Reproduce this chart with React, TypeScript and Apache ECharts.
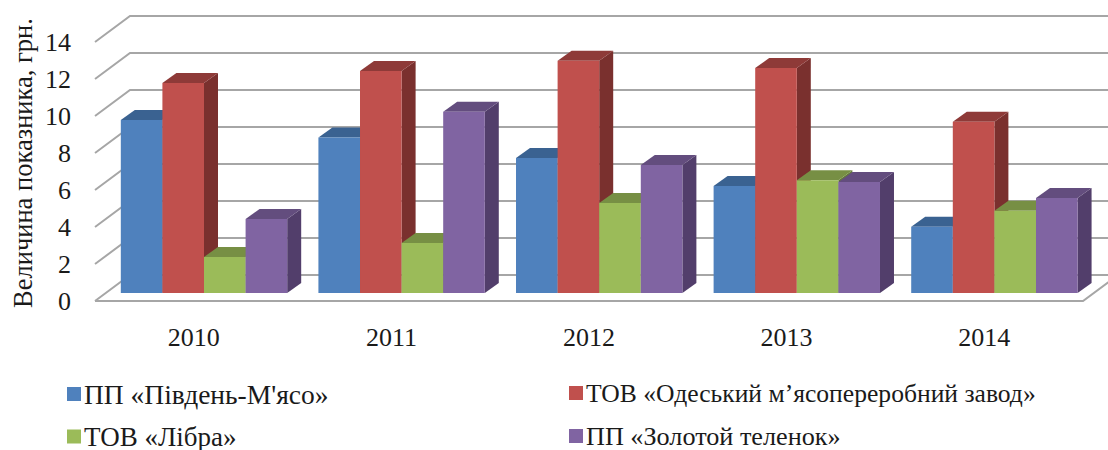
import React, { useEffect, useRef } from "react";
import * as echarts from "echarts";

const categories = ["2010", "2011", "2012", "2013", "2014"];
const valueTicks = [0, 2, 4, 6, 8, 10, 12, 14];
const seriesNames = [
  "ПП «Південь-М'ясо»",
  "ТОВ «Одеський м’ясопереробний завод»",
  "ТОВ «Лібра»",
  "ПП «Золотой теленок»",
];
const pivdenMyaso = [9.35, 8.4, 7.3, 5.78, 3.58];
const odeskyi = [11.35, 12.0, 12.55, 12.16, 9.26];
const libra = [1.95, 2.7, 4.86, 6.1, 4.45];
const zolotoi = [4.0, 9.8, 6.92, 6.0, 5.13];
const seriesValues = [pivdenMyaso, odeskyi, libra, zolotoi];
const frontColors = ["#4F81BD", "#C0504D", "#9BBB59", "#8064A2"];
const topColors = ["#3A6291", "#8E3A38", "#778F44", "#634D7E"];
const sideColors = ["#31527A", "#7A302E", "#647A3A", "#523E6B"];

const FONT = '"Liberation Serif", "Times New Roman", serif';
const WALL_DX = 35, WALL_DY = -26;
const BAR_OFFSET_X = 10.2, BAR_OFFSET_Y = -8;
const BAR_DX = 14, BAR_DY = -10;
const BAR_BAND = 0.2105;
const GRID_COLOR = "#A6A6A6";

const renderGrid = (params: any, api: any) => {
  const sys = params.coordSys;
  const v = api.value(0);
  const y = api.coord([0, v])[1];
  const left = sys.x, right = sys.x + sys.width;
  const style = { stroke: GRID_COLOR, lineWidth: 2, fill: "none" };
  const children: any[] = [
    { type: "polyline", shape: { points: [[left, y], [left + WALL_DX, y + WALL_DY], [right + WALL_DX, y + WALL_DY]] }, style },
  ];
  if (v === 0) {
    children.push({ type: "polyline", shape: { points: [[left, y], [right, y], [right + WALL_DX, y + WALL_DY]] }, style });
  }
  return { type: "group", children };
};

const makeBarRenderer = (si: number) => (_params: any, api: any) => {
  const band = api.size([1, 0])[0];
  const w = band * BAR_BAND;
  const [cx, yTop0] = api.coord([api.value(0), api.value(1)]);
  const yBase0 = api.coord([api.value(0), 0])[1];
  const x0 = cx + BAR_OFFSET_X + (si - 2) * w;
  const x1 = x0 + w;
  const yT = yTop0 + BAR_OFFSET_Y;
  const yB = yBase0 + BAR_OFFSET_Y;
  return {
    type: "group",
    children: [
      { type: "polygon", shape: { points: [[x1, yT], [x1 + BAR_DX, yT + BAR_DY], [x1 + BAR_DX, yB + BAR_DY], [x1, yB]] }, style: { fill: sideColors[si] } },
      { type: "polygon", shape: { points: [[x0, yT], [x0 + BAR_DX, yT + BAR_DY], [x1 + BAR_DX, yT + BAR_DY], [x1, yT]] }, style: { fill: topColors[si] } },
      { type: "rect", shape: { x: x0, y: yT, width: w, height: yB - yT }, style: { fill: frontColors[si] } },
    ],
  };
};

const legendPositions = [
  { left: 67, top: 380 },
  { left: 569, top: 380 },
  { left: 67, top: 423 },
  { left: 569, top: 423 },
];
const legendFontSizes = [27.5, 25.6, 27, 26.2];

export default function App() {
  const ref = useRef<HTMLDivElement>(null);
  useEffect(() => {
    document.body.style.margin = "0";
    const chart = echarts.init(ref.current!, null, { renderer: "svg" });
    chart.setOption({
      animation: false,
      backgroundColor: "#fff",
      grid: { left: 95, right: 25, top: 42, bottom: 149 },
      xAxis: {
        type: "category",
        data: categories,
        axisLine: { show: false },
        axisTick: { show: false },
        splitLine: { show: false },
        axisLabel: { margin: 23, fontFamily: FONT, fontSize: 26, color: "#1a1a1a" },
      },
      yAxis: {
        type: "value",
        min: 0,
        max: 14,
        interval: 2,
        axisLine: { show: false },
        axisTick: { show: false },
        splitLine: { show: false },
        axisLabel: { margin: 24, fontFamily: FONT, fontSize: 26, color: "#1a1a1a" },
      },
      legend: seriesNames.map((name, i) => ({
        data: [name],
        left: legendPositions[i].left,
        top: legendPositions[i].top,
        icon: "rect",
        itemWidth: 14,
        itemHeight: 14,
        itemGap: 0,
        padding: 0,
        selectedMode: false,
        textStyle: { fontFamily: FONT, fontSize: legendFontSizes[i], lineHeight: 26, color: "#1a1a1a", padding: [0, 0, 0, -2] },
      })),
      graphic: [
        {
          type: "text",
          x: 23,
          y: 163,
          rotation: Math.PI / 2,
          style: {
            text: "Величина показника, грн.",
            font: `26.5px ${FONT}`,
            fill: "#1a1a1a",
            align: "center",
            verticalAlign: "middle",
          },
        },
      ],
      series: [
        {
          type: "custom",
          name: "grid",
          silent: true,
          z: 1,
          data: valueTicks.map((t) => [t]),
          encode: { y: 0 },
          renderItem: renderGrid,
        },
        ...seriesNames.map((name, si) => ({
          type: "custom",
          name,
          z: 2,
          itemStyle: { color: frontColors[si] },
          data: seriesValues[si].map((v, ci) => [ci, v]),
          encode: { x: 0, y: 1 },
          renderItem: makeBarRenderer(si),
        })),
      ],
    });
    return () => chart.dispose();
  }, []);
  return <div ref={ref} style={{ width: 1108, height: 450 }} />;
}
